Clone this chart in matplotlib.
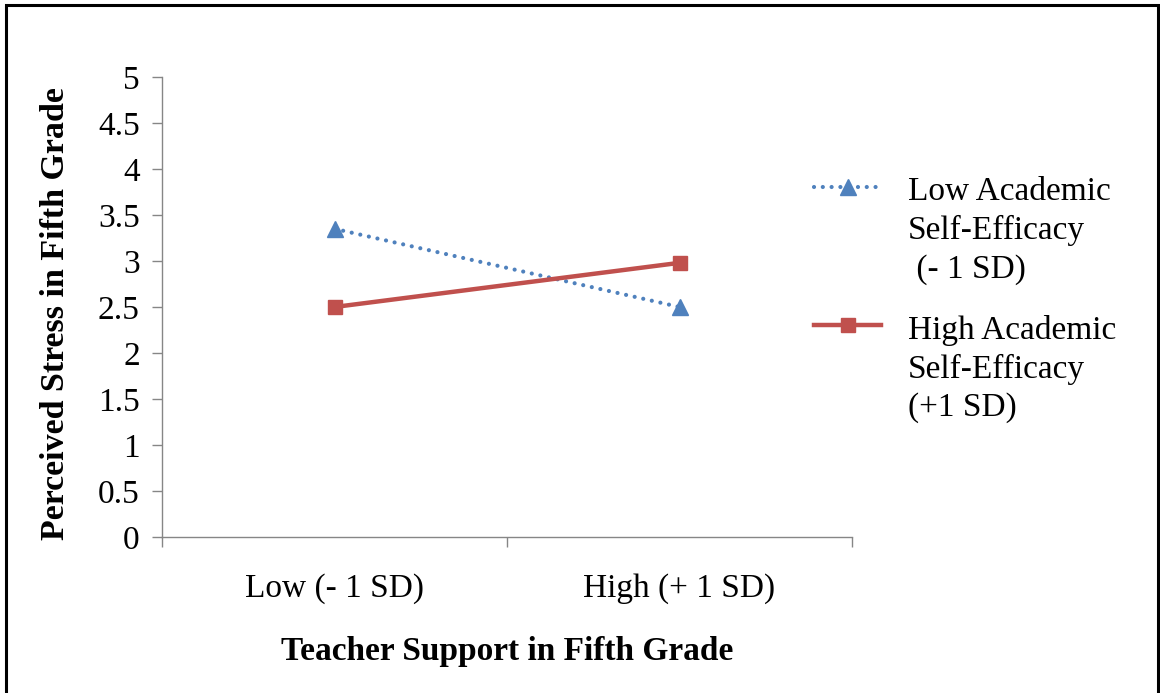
import numpy as np
import matplotlib
matplotlib.use('Agg')
import matplotlib.pyplot as plt
from matplotlib.legend_handler import HandlerLine2D
from matplotlib.patches import Rectangle

plt.rcParams['font.family'] = ['Liberation Serif', 'DejaVu Serif']

# data
categories = ['Low (- 1 SD)', 'High (+ 1 SD)']
low_se = [3.35, 2.50]
high_se = [2.50, 2.98]
low_label = 'Low Academic\nSelf-Efficacy\n (- 1 SD)'
high_label = 'High Academic\nSelf-Efficacy\n(+1 SD)'
y_ticks = [0, 0.5, 1, 1.5, 2, 2.5, 3, 3.5, 4, 4.5, 5]

BLUE = '#4F81BD'
RED = '#C0504D'
GRAY = '#868686'
FS = 24
LSP = 1.33


class TopLineHandler(HandlerLine2D):
    # put the legend key next to the first line of a multi-line label
    def __init__(self, shift, **kw):
        super().__init__(**kw)
        self.shift = shift

    def create_artists(self, legend, orig_handle, xdescent, ydescent,
                       width, height, fontsize, trans):
        artists = super().create_artists(legend, orig_handle, xdescent, ydescent,
                                         width, height, fontsize, trans)
        for a in artists:
            a.set_ydata(np.asarray(a.get_ydata()) + self.shift)
        return artists


fig = plt.figure(figsize=(11.6, 6.93), dpi=100)
ax = fig.add_axes([0.1397, 0.2251, 0.7345 - 0.1397, 0.8889 - 0.2251])

x = np.arange(len(categories))
l1, = ax.plot(x, low_se, color=BLUE, lw=3, linestyle=(0, (0.01, 2.1)),
              dash_capstyle='round', marker='^', markersize=11,
              markeredgecolor=BLUE, markerfacecolor=BLUE, label=low_label)
l2, = ax.plot(x, high_se, color=RED, lw=3.2, marker='s', markersize=9.5,
              markeredgecolor=RED, markerfacecolor=RED, label=high_label)

ax.set_xlim(-0.5, len(categories) - 0.5)
ax.set_ylim(0, 5)
ax.set_yticks(y_ticks)
ax.set_yticklabels([f'{v:g}' for v in y_ticks])
ax.set_xticks(x)
ax.set_xticklabels(categories)
ax.set_xticks(np.arange(len(categories) + 1) - 0.5, minor=True)

for s in ['top', 'right']:
    ax.spines[s].set_visible(False)
for s in ['left', 'bottom']:
    ax.spines[s].set_color(GRAY)
    ax.spines[s].set_linewidth(1)

ax.tick_params(axis='y', direction='out', length=7, width=1, color=GRAY,
               labelsize=FS, pad=9)
ax.tick_params(axis='x', which='major', length=0, labelsize=FS, pad=26)
ax.tick_params(axis='x', which='minor', direction='out', length=7, width=1,
               color=GRAY)

ax.set_xlabel('Teacher Support in Fifth Grade', fontsize=FS, fontweight='bold')
ax.set_ylabel('Perceived Stress in Fifth Grade', fontsize=24.5, fontweight='bold')
ax.xaxis.set_label_coords(0.5, -0.215)
ax.yaxis.set_label_coords(-0.132, 0.485)

shift = LSP * FS
leg = ax.legend(handles=[l1, l2], loc='upper left', bbox_to_anchor=(0.702, 0.745),
                bbox_transform=fig.transFigure, frameon=False, fontsize=FS,
                handlelength=2.0, handletextpad=0.8, borderpad=0, borderaxespad=0,
                labelspacing=0.9,
                handler_map={l1: TopLineHandler(shift), l2: TopLineHandler(shift)})
for t in leg.get_texts():
    t.set_linespacing(LSP)

# black frame around the picture
fig.patches.append(Rectangle((6 / 1160, -0.02), (1158 - 6) / 1160, 1.02 - 5 / 693,
                             transform=fig.transFigure, fill=False,
                             edgecolor='black', linewidth=2.2, zorder=10))

fig.savefig('out.png', dpi=100)
